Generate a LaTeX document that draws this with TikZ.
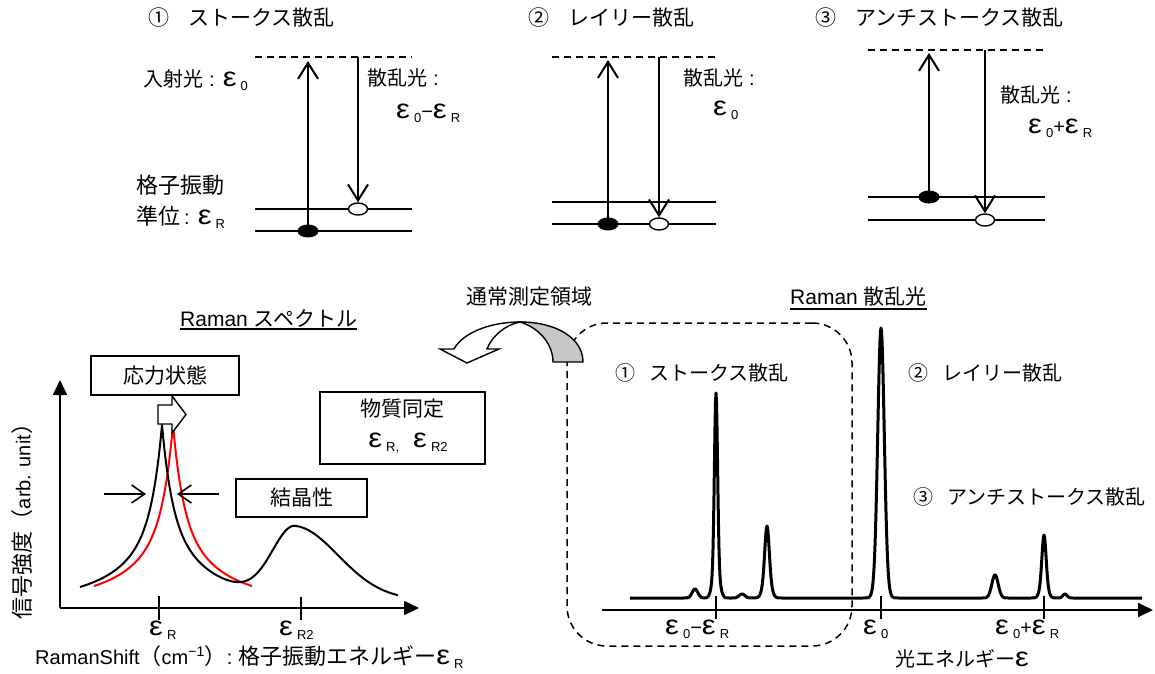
\documentclass[tikz,border=0pt]{standalone}
\usepackage{graphicx}
\usepackage{fontspec}
\setmainfont{Liberation Sans}
\newfontfamily\jp{Noto Sans CJK JP}
\usetikzlibrary{arrows.meta,shapes.geometric,calc}
\newcommand\ep{{\scalebox{1.55}[1.35]{ε}}}
\newcommand\sbx[1]{\hspace{0.2em}\raisebox{-0.4ex}{\fontsize{13}{13}\selectfont #1}}
\newcommand\jb[1]{{\fontsize{22}{24}\selectfont\jp #1}}
\begin{document}
\begin{tikzpicture}[x=1pt,y=-1pt,
  font=\fontsize{20}{24}\selectfont,
  txt/.style={inner sep=0pt, anchor=west},
  lvl/.style={line width=1.6pt},
  dsh/.style={line width=1.5pt, dash pattern=on 7pt off 5pt},
  barb/.style={line width=2pt, -{Straight Barb[length=16pt,width=20pt,line width=2pt]}},
  hbarb/.style={line width=1.6pt, -{Straight Barb[length=13pt,width=18pt,line width=1.6pt]}},
  axis/.style={line width=1.8pt, -{Triangle[length=15pt,width=14pt]}},
  tick/.style={line width=1.5pt},
  ballf/.style={ellipse, draw, fill=black, line width=1pt, minimum width=20pt, minimum height=12pt, inner sep=0pt},
  ballo/.style={ellipse, draw, fill=white, line width=1.4pt, minimum width=19pt, minimum height=12pt, inner sep=0pt},
  box/.style={draw, line width=1.4pt, fill=white, inner sep=0pt},
  declare function={
    gs(\t,\c,\h,\s)=\h*exp(-1*pow(min(abs(\t-\c)/\s,4),2));
    cu(\t,\c,\h,\s)=\h*exp(-1*min(abs(\t-\c)/\s,12));
  }]
\useasboundingbox (0,0) rectangle (1155,673);

% ===== diagram 1 : Stokes =====
\node[txt,font=\fontsize{21}{24}\selectfont\jp] (t1) at (148,18) {①\hspace{0.9em}ストークス散乱};
\draw[dsh] (255,57) -- (412,57);
\draw[lvl] (255,209) -- (412,209);
\draw[lvl] (255,231) -- (412,231);
\coordinate (a1top) at (308,61);
\coordinate (s1top) at (358,57);
\node[ballo] (o1) at (358,209) {};
\node[ballf] (f1) at (308,231) {};
\draw[barb] (f1.center) -- (a1top);
\draw[barb] (s1top) -- (o1.north);
\node[txt] (in1) at (143,80) {{\jp 入射光}\hspace{0.3em}:\hspace{0.4em}\ep\sbx{0}};
\node[txt] (sc1) at (367,78) {{\jp 散乱光}\hspace{0.3em}:};
\node[txt] (sv1) at (396,113) {\ep\sbx{0}−\ep\sbx{R}};
\node[txt] (lv1) at (136,185) {\jb{格子振動}};
\node[txt] (lv2) at (136,217) {\jb{準位}\hspace{0.2em}:\hspace{0.4em}\ep\sbx{R}};

% ===== diagram 2 : Rayleigh =====
\node[txt,font=\fontsize{21}{24}\selectfont\jp] (t2) at (528,18) {②\hspace{0.9em}レイリー散乱};
\draw[dsh] (552,57) -- (716,57);
\draw[lvl] (552,202) -- (716,202);
\draw[lvl] (552,224) -- (716,224);
\coordinate (a2top) at (608,60);
\coordinate (s2top) at (659,57);
\node[ballo] (o2) at (659,224) {};
\node[ballf] (f2) at (608,224) {};
\draw[barb] (f2.center) -- (a2top);
\draw[barb] (s2top) -- (o2.north);
\node[txt] (sc2) at (683,78) {{\jp 散乱光}\hspace{0.3em}:};
\node[txt] (sv2) at (713,110) {\ep\sbx{0}};

% ===== diagram 3 : anti-Stokes =====
\node[txt,font=\fontsize{21}{24}\selectfont\jp] (t3) at (815,18) {③\hspace{0.9em}アンチストークス散乱};
\draw[dsh] (868,50) -- (1045,50);
\draw[lvl] (868,197) -- (1045,197);
\draw[lvl] (868,220) -- (1045,220);
\coordinate (a3top) at (929,53);
\coordinate (s3top) at (985,50);
\node[ballo] (o3) at (985,220) {};
\node[ballf] (f3) at (929,197) {};
\draw[barb] (f3.center) -- (a3top);
\draw[barb] (s3top) -- (o3.north);
\node[txt] (sc3) at (1000,95) {{\jp 散乱光}\hspace{0.3em}:};
\node[txt] (sv3) at (1028,128) {\ep\sbx{0}+\ep\sbx{R}};

% ===== bottom left : Raman spectrum =====
\node[txt, inner ysep=2pt, font=\fontsize{21}{24}\selectfont] (rs) at (180,318) {Raman {\jp スペクトル}};
\draw[line width=1.5pt] (rs.south west) -- (rs.south east);

\coordinate (O) at (60,608);
\coordinate (Ytip) at (60,380);
\coordinate (Xtip) at (419,608);
\draw[axis] (O) -- (Ytip);
\draw[axis] (O) -- (Xtip);
\draw[tick] (159,596) -- (159,620);
\draw[tick] (301,597) -- (301,620);
\node[txt] (er) at (149,630) {\ep\sbx{R}};
\node[txt] (er2) at (279,630) {\ep\sbx{R2}};
\node[txt] (xl) at (35,657) {RamanShift\jb{（}cm\textsuperscript{−1}\jb{）}:\hspace{0.3em}\jb{格子振動エネルギー}\ep\sbx{R}};
\node[rotate=90, inner sep=0pt] (yl) at (22,516) {\jb{信号強度（}arb. unit\jb{）}};

% curves
\draw[red, line width=2pt, line join=round] plot[domain=94:252, samples=159]
  (\x,{600-cu(\x,173,91,9.9)-cu(\x,173,84,44)});
\draw[line width=2pt, line join=round] plot[domain=80:398, samples=319]
  (\x,{600-cu(\x,162,91,9.9)-cu(\x,162,84,44)-70*exp(-1*pow(min(abs(\x-295)/ifthenelse(\x<295,32,62),4),2))});

% stress box and block arrow
\node[box, minimum width=148pt, minimum height=39pt, font=\fontsize{21}{24}\selectfont\jp] (stress) at (165,375.5) {応力状態};
\draw[line width=1.4pt, fill=white, line join=miter] (158,405) -- (172,405) -- (172,396) -- (186,414.5) -- (172,433) -- (172,424) -- (158,424) -- cycle;

% crystallinity
\coordinate (wl0) at (104,494);
\coordinate (wl1) at (146,494);
\coordinate (wr0) at (219,494);
\coordinate (wr1) at (177,494);
\draw[hbarb] (wl0) -- (wl1);
\draw[hbarb] (wr0) -- (wr1);
\node[box, minimum width=131pt, minimum height=38pt, font=\fontsize{21}{24}\selectfont\jp] (cryst) at (301.5,498) {結晶性};

% identification
\node[box, minimum width=165pt, minimum height=72pt] (ident) at (402.5,428) {};
\node[inner sep=0pt, font=\fontsize{21}{24}\selectfont\jp] (idt) at (402,409) {物質同定};
\node[inner sep=0pt] (idv) at (408,443) {\ep\sbx{R,}\hspace{0.7em}\ep\sbx{R2}};

% ===== bottom right : Raman scattered light =====
\node[txt, inner ysep=2pt, font=\fontsize{21}{24}\selectfont] (rl) at (790,297) {Raman {\jp 散乱光}};
\draw[line width=1.5pt] (rl.south west) -- (rl.south east);

\node[draw, dsh, rounded corners=40pt, minimum width=285pt, minimum height=323pt, inner sep=0pt] (region) at (709.5,484.5) {};

% curved arrow
\node[inner sep=0pt, font=\fontsize{21}{24}\selectfont\jp] (norm) at (529,297) {通常測定領域};
\draw[line width=1.4pt, fill=white, line join=miter] (520,322) .. controls (488,322) and (462,334) .. (454,349) -- (440,349) -- (467,363) -- (499,349) -- (487,349) .. controls (492,336) and (505,325) .. (520,322) -- cycle;
\draw[line width=1.4pt, fill=black!22] (520,322) .. controls (556,322) and (583,338) .. (583,362) -- (553,362) .. controls (553,345) and (540,328) .. (520,322) -- cycle;

\coordinate (O2) at (602,610);
\coordinate (X2tip) at (1153,610);
\draw[axis] (O2) -- (X2tip);
\draw[line width=3pt, line join=round] plot[domain=630:1142, samples=1025]
  (\x,{598-gs(\x,695,9,4)-gs(\x,716,170,2.2)-gs(\x,716,35,4.5)-gs(\x,742,4,4)-gs(\x,767,48,3)-gs(\x,767,24,5)-gs(\x,881,235,4.5)-gs(\x,881,35,6)-gs(\x,995,23,4.5)-gs(\x,1044,43,2.8)-gs(\x,1044,20,4.5)-gs(\x,1065,4,3)});
\draw[tick] (716,596) -- (716,619);
\draw[tick] (881,596) -- (881,619);
\draw[tick] (1044,596) -- (1044,619);
\node[txt] (l1) at (665,629) {\ep\sbx{0}−\ep\sbx{R}};
\node[txt] (l2) at (863,629) {\ep\sbx{0}};
\node[txt] (l3) at (995,629) {\ep\sbx{0}+\ep\sbx{R}};
\node[txt] (xl2) at (895,659) {{\jp 光エネルギー}\ep};

\node[txt, font=\fontsize{20}{24}\selectfont\jp] (p1) at (615,373) {①\hspace{0.7em}ストークス散乱};
\node[txt, font=\fontsize{20}{24}\selectfont\jp] (p2) at (908,373) {②\hspace{0.7em}レイリー散乱};
\node[txt, font=\fontsize{20}{24}\selectfont\jp] (p3) at (913,497) {③\hspace{0.7em}アンチストークス散乱};
\end{tikzpicture}
\end{document}
